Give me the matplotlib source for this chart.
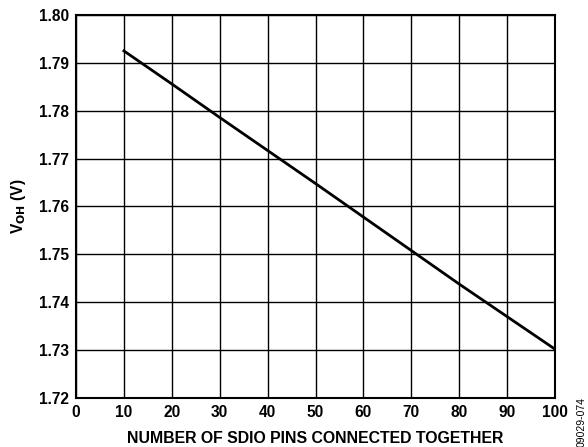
import matplotlib
matplotlib.use('Agg')
import matplotlib.pyplot as plt

plt.rcParams['font.family'] = ['Liberation Sans', 'DejaVu Sans']

# data
pins = [10, 20, 30, 40, 50, 60, 70, 80, 90, 100]
voh = [1.7925, 1.7856, 1.7786, 1.7717, 1.7648, 1.7578, 1.7508, 1.7438, 1.7370, 1.7302]
x_ticks = [0, 10, 20, 30, 40, 50, 60, 70, 80, 90, 100]
y_ticks = [1.72, 1.73, 1.74, 1.75, 1.76, 1.77, 1.78, 1.79, 1.80]

fig = plt.figure(figsize=(5.88, 4.47), dpi=100)
ax = fig.add_axes([76 / 588, 1 - 398 / 447, 479 / 588, 383 / 447])

ax.plot(pins, voh, color='black', linewidth=2)

ax.set_xlim(0, 100)
ax.set_ylim(1.72, 1.80)
ax.set_xticks(x_ticks)
ax.set_yticks(y_ticks)
ax.set_yticklabels(['%.2f' % v for v in y_ticks])
ax.grid(True, color='black', linewidth=1)
ax.tick_params(length=0, labelsize=11.2, pad=5)
for lab in ax.get_xticklabels() + ax.get_yticklabels():
    lab.set_fontweight('bold')
for s in ax.spines.values():
    s.set_linewidth(1.5)

ax.set_xlabel('NUMBER OF SDIO PINS CONNECTED TOGETHER', fontsize=11.4, fontweight='bold', labelpad=8)
ax.set_ylabel(r'V$_{\mathbf{OH}}$ (V)', fontsize=11.2, fontweight='bold', labelpad=8)

fig.text(582 / 588, 1 - 422 / 447, '09029-074', rotation=90, fontsize=7.5, ha='center', va='center')

fig.savefig('out.png', dpi=100)
